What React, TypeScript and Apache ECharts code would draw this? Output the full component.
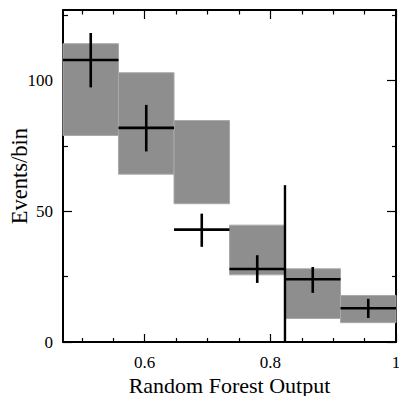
import React, { useEffect, useRef } from "react";
import * as echarts from "echarts";

const binEdges = [0.47, 0.5583, 0.6467, 0.735, 0.8233, 0.9117, 1.0];
const bandLow = [79, 64.2, 52.9, 25.7, 9.0, 7.4];
const bandHigh = [114.1, 103, 84.7, 44.7, 28.0, 17.8];
const pointValue = [107.9, 81.9, 43.0, 27.9, 24.0, 12.9];
const errLow = [97.4, 72.9, 36.4, 22.6, 18.8, 9.2];
const errHigh = [118.2, 90.7, 49.1, 33.2, 28.7, 16.5];
const extraLine = [0.8233, 0, 60];

const xMajor = [0.6, 0.8, 1];
const xMinor = [0.5, 0.55, 0.65, 0.7, 0.75, 0.85, 0.9, 0.95];
const yMajor = [0, 50, 100];
const yMinor = [25, 75, 125];

const FONT = "'Liberation Serif', 'Times New Roman', serif";

export default function App() {
  const ref = useRef<HTMLDivElement>(null);
  useEffect(() => {
    const chart = echarts.init(ref.current!, null, { renderer: "svg" });
    const bands = bandLow.map((lo, i) => [binEdges[i], binEdges[i + 1], lo, bandHigh[i]]);
    const pts = pointValue.map((v, i) => [binEdges[i], binEdges[i + 1], v, errLow[i], errHigh[i]]);

    const mkX = (pos: string, vals: number[], len: number, showLine: boolean, label: boolean, extra: any = {}) => ({
      type: "value",
      min: 0.47,
      max: 1,
      position: pos,
      axisLine: { show: showLine, onZero: false, lineStyle: { color: "#000", width: 2 } },
      axisTick: { show: true, inside: true, length: len, customValues: vals, lineStyle: { color: "#000", width: 1.2 } },
      axisLabel: label
        ? { show: true, customValues: vals, margin: 13, color: "#000", fontFamily: FONT, fontSize: 17, lineHeight: 15 }
        : { show: false },
      splitLine: { show: false },
      ...extra,
    });
    const mkY = (pos: string, vals: number[], len: number, showLine: boolean, label: boolean, extra: any = {}) => ({
      type: "value",
      min: 0,
      max: 127,
      position: pos,
      axisLine: { show: showLine, onZero: false, lineStyle: { color: "#000", width: 2 } },
      axisTick: { show: true, inside: true, length: len, customValues: vals, lineStyle: { color: "#000", width: 1.2 } },
      axisLabel: label
        ? { show: true, customValues: vals, margin: 10, color: "#000", fontFamily: FONT, fontSize: 17 }
        : { show: false },
      splitLine: { show: false },
      ...extra,
    });

    chart.setOption({
      animation: false,
      textStyle: { fontFamily: FONT },
      grid: { left: 63, right: 3, top: 10, bottom: 54, containLabel: false, outerBoundsMode: "none" },
      xAxis: [
        mkX("bottom", xMajor, 8, true, true, {
          name: "Random Forest Output",
          nameLocation: "middle",
          nameGap: 33,
          nameMoveOverlap: false,
          nameTextStyle: { color: "#000", fontFamily: FONT, fontSize: 22, lineHeight: 20 },
        }),
        mkX("bottom", xMinor, 4, false, false),
        mkX("top", xMajor, 9, true, false),
        mkX("top", xMinor, 4.5, false, false),
      ],
      yAxis: [
        mkY("left", yMajor, 9, true, true, {
          name: "Events/bin",
          nameLocation: "middle",
          nameGap: 32,
          nameMoveOverlap: false,
          nameTextStyle: { color: "#000", fontFamily: FONT, fontSize: 22.5 },
        }),
        mkY("left", yMinor, 5, false, false),
        mkY("right", yMajor, 9, true, false),
        mkY("right", yMinor, 4, false, false),
      ],
      series: [
        {
          type: "custom",
          xAxisIndex: 0,
          yAxisIndex: 0,
          data: bands,
          renderItem: (params: any, api: any) => {
            const p0 = api.coord([api.value(0), api.value(3)]);
            const p1 = api.coord([api.value(1), api.value(2)]);
            return {
              type: "rect",
              shape: { x: p0[0], y: p0[1], width: p1[0] - p0[0], height: p1[1] - p0[1] },
              style: { fill: "#8e8e8e", stroke: "#a9a9a9", lineWidth: 1 },
            };
          },
        },
        {
          type: "custom",
          xAxisIndex: 0,
          yAxisIndex: 0,
          data: pts,
          renderItem: (params: any, api: any) => {
            const x0 = api.value(0);
            const x1 = api.value(1);
            const xc = (x0 + x1) / 2;
            const a = api.coord([x0, api.value(2)]);
            const b = api.coord([x1, api.value(2)]);
            const lo = api.coord([xc, api.value(3)]);
            const hi = api.coord([xc, api.value(4)]);
            return {
              type: "group",
              children: [
                { type: "line", shape: { x1: a[0], y1: a[1], x2: b[0], y2: b[1] }, style: { stroke: "#000", lineWidth: 2.6 } },
                { type: "line", shape: { x1: lo[0], y1: lo[1], x2: hi[0], y2: hi[1] }, style: { stroke: "#000", lineWidth: 2.6 } },
              ],
            };
          },
        },
        {
          type: "custom",
          xAxisIndex: 0,
          yAxisIndex: 0,
          data: [extraLine],
          renderItem: (params: any, api: any) => {
            const a = api.coord([api.value(0), api.value(1)]);
            const b = api.coord([api.value(0), api.value(2)]);
            return {
              type: "line",
              shape: { x1: a[0], y1: a[1], x2: b[0], y2: b[1] },
              style: { stroke: "#000", lineWidth: 2.4 },
            };
          },
        },
      ],
    });
    return () => chart.dispose();
  }, []);
  return <div ref={ref} style={{ width: 399, height: 396, position: "absolute", left: 0, top: 0 }} />;
}
